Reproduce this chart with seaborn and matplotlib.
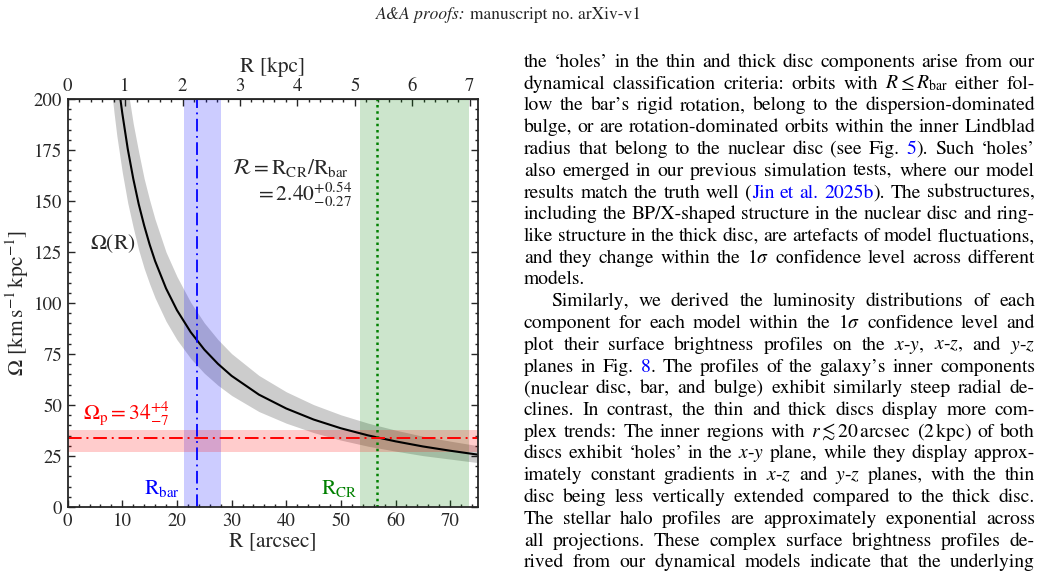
import numpy as np
import matplotlib
matplotlib.use("Agg")
import matplotlib.pyplot as plt
import matplotlib.transforms as mtransforms
import seaborn as sns

# ---- data (R in arcsec, Omega in km/s/kpc) ----
r_arcsec = [8, 8.5, 9, 9.5, 10, 11, 12, 13, 14, 15, 16, 18, 20, 22.5, 25, 27.5,
            30, 35, 40, 45, 50, 55, 60, 65, 70, 75]
omega = [241, 227, 214, 203, 193, 175.5, 161, 148.5, 138, 128.7, 120.6, 107.2,
         96.5, 85.8, 77.2, 70.2, 64.3, 55.1, 48.3, 42.9, 38.6, 35.1, 32.2, 29.7,
         27.6, 25.7]
omega_up = [282, 266, 250, 237, 226, 205, 188, 174, 161, 150.5, 141, 125, 113,
            100.4, 90.3, 82.1, 75.2, 64.5, 56.5, 50.2, 45.2, 41.1, 37.7, 34.7,
            32.3, 30.1]
omega_lo = [205, 193, 182, 173, 164, 149, 137, 126, 117, 109.4, 102.5, 91.1,
            82.0, 72.9, 65.6, 59.7, 54.7, 46.8, 41.1, 36.5, 32.8, 29.8, 27.4,
            25.2, 23.5, 21.8]

r_bar, r_bar_lo, r_bar_hi = 23.6, 21.2, 28.1
r_cr, r_cr_lo, r_cr_hi = 56.6, 53.5, 73.4
omega_p, omega_p_lo, omega_p_hi = 34, 27, 38
arcsec_per_kpc = 10.51

sns.set_style("ticks")
plt.rcParams["font.family"] = ["STIXGeneral", "DejaVu Serif"]
plt.rcParams["mathtext.fontset"] = "stix"

fig = plt.figure(figsize=(10.41, 5.72), dpi=100)
ax = fig.add_axes([0.065, 0.1136, 0.3937, 0.7132])

# bands
ax.fill_between(r_arcsec, omega_lo, omega_up, color="black", alpha=0.2, lw=0)
ax.axvspan(r_bar_lo, r_bar_hi, color="blue", alpha=0.2, lw=0)
ax.axvspan(r_cr_lo, r_cr_hi, color="green", alpha=0.2, lw=0)
ax.axhspan(omega_p_lo, omega_p_hi, color="red", alpha=0.2, lw=0)

sns.lineplot(x=r_arcsec, y=omega, color="black", lw=1.5, ax=ax)
ax.axvline(r_bar, color="blue", lw=1.3, ls=(0, (7, 2.5, 1, 2.5)))
ax.axvline(r_cr, color="green", lw=1.8, ls=(0, (1, 1.5)))
ax.axhline(omega_p, color="red", lw=1.4, ls=(0, (7, 2.5, 1, 2.5)))

ax.set_xlim(0, 75)
ax.set_ylim(0, 200)
ax.set_xticks(np.arange(0, 71, 10))
ax.set_xticks(np.arange(0, 75.1, 2), minor=True)
ax.set_yticks(np.arange(0, 201, 25))
ax.set_yticks(np.arange(0, 201, 5), minor=True)
ax.tick_params(which="both", direction="in", left=True, right=True,
               top=False, labelsize=13.5, width=1.0, pad=4)
ax.tick_params(which="major", length=5)
ax.tick_params(which="minor", length=2.5)
for sp in ax.spines.values():
    sp.set_linewidth(1.3)
    sp.set_visible(True)

ax.set_xlabel("R [arcsec]", fontsize=15.5, labelpad=1)
ax.set_ylabel(r"$\Omega$ [km$\,$s$^{-1}$$\,$kpc$^{-1}$]", fontsize=15.5, labelpad=2)

top = ax.secondary_xaxis("top", functions=(lambda x: x / arcsec_per_kpc,
                                           lambda k: k * arcsec_per_kpc))
top.set_xticks(np.arange(0, 8, 1))
top.set_xticks(np.arange(0, 7.01, 0.2), minor=True)
top.tick_params(which="both", direction="in", labelsize=13.5, width=1.0, pad=3)
top.tick_params(which="major", length=5)
top.tick_params(which="minor", length=2.5)
top.set_xlabel("R [kpc]", fontsize=15.5, labelpad=4)

# annotations
ax.text(4.1, 129, r"$\Omega(\mathrm{R})$", fontsize=15.5, va="center")
ax.text(30.0, 166, r"$\mathcal{R} = \mathrm{R_{CR}/R_{bar}}$", fontsize=15.5, va="center")
ax.text(52.0, 153, r"$= 2.40^{+0.54}_{-0.27}$", fontsize=15.5, va="center", ha="right")
ax.text(2.8, 46, r"$\Omega_\mathrm{p} = 34^{+4}_{-7}$", fontsize=15.5, color="red", va="center")
ax.text(20.6, 9, r"$\mathrm{R_{bar}}$", fontsize=15.5, color="blue", va="center", ha="right")
ax.text(53.0, 9, r"$\mathrm{R_{CR}}$", fontsize=15.5, color="green", va="center", ha="right")

# ---- page text around the figure ----
W, H = 1041, 572
ident = mtransforms.IdentityTransform()
fig.canvas.draw()
renderer = fig.canvas.get_renderer()

h1 = fig.text(376, H - 19, "A&A proofs:", fontsize=12.5, style="italic",
              transform=ident, va="baseline")
h1w = h1.get_window_extent(renderer).width
fig.text(376 + h1w + 4, H - 19, "manuscript no. arXiv-v1", fontsize=12.5,
         transform=ident, va="baseline")

lines = [
    "the ‘holes’ in the thin and thick disc components arise from our",
    r"dynamical classification criteria: orbits with $R\leq{}R_{\mathrm{bar}}$ either fol-",
    "low the bar’s rigid rotation, belong to the dispersion-dominated",
    "bulge, or are rotation-dominated orbits within the inner Lindblad",
    "radius that belong to the nuclear disc (see Fig. @5|). Such ‘holes’",
    "also emerged in our previous simulation tests, where our model",
    "results match the truth well (|@Jin @et @al. @2025b|). The substructures,",
    "including the BP/X-shaped structure in the nuclear disc and ring-",
    "like structure in the thick disc, are artefacts of model fluctuations,",
    r"and they change within the 1$\sigma$ confidence level across different",
    "models.",
    "Similarly, we derived the luminosity distributions of each",
    r"component for each model within the 1$\sigma$ confidence level and",
    r"plot their surface brightness profiles on the $x$-$y$, $x$-$z$, and $y$-$z$",
    "planes in Fig. @8|. The profiles of the galaxy’s inner components",
    "(nuclear disc, bar, and bulge) exhibit similarly steep radial de-",
    "clines. In contrast, the thin and thick discs display more com-",
    r"plex trends: The inner regions with $r\lesssim{}20\,$arcsec (2$\,$kpc) of both",
    r"discs exhibit ‘holes’ in the $x$-$y$ plane, while they display approx-",
    r"imately constant gradients in $x$-$z$ and $y$-$z$ planes, with the thin",
    "disc being less vertically extended compared to the thick disc.",
    "The stellar halo profiles are approximately exponential across",
    "all projections. These complex surface brightness profiles de-",
    "rived from our dynamical models indicate that the underlying",
]
not_justified = {10}
indented = {11}
FS = 14.1
x_left, x_right = 524, 1035

for i, line in enumerate(lines):
    y = H - (67 + i * 21.75)
    x0 = x_left + (27 if i in indented else 0)
    words = []
    for w in line.split(" "):
        pieces = []
        for p in w.split("|"):
            if p == "":
                continue
            col = "blue" if p.startswith("@") else "black"
            t = fig.text(0, y, p.lstrip("@"), color=col, fontsize=FS,
                         transform=ident, va="baseline", ha="left")
            pieces.append((t, t.get_window_extent(renderer).width))
        words.append(pieces)
    widths = [sum(pw for _, pw in pc) for pc in words]
    if i in not_justified or len(words) < 2:
        gap = FS * 100 / 72 * 0.25
    else:
        gap = (x_right - x0 - sum(widths)) / (len(words) - 1)
    x = x0
    for pc, wd in zip(words, widths):
        xx = x
        for t, pw in pc:
            t.set_x(xx)
            xx += pw
        x += wd + gap

fig.savefig("out.png", dpi=100)
